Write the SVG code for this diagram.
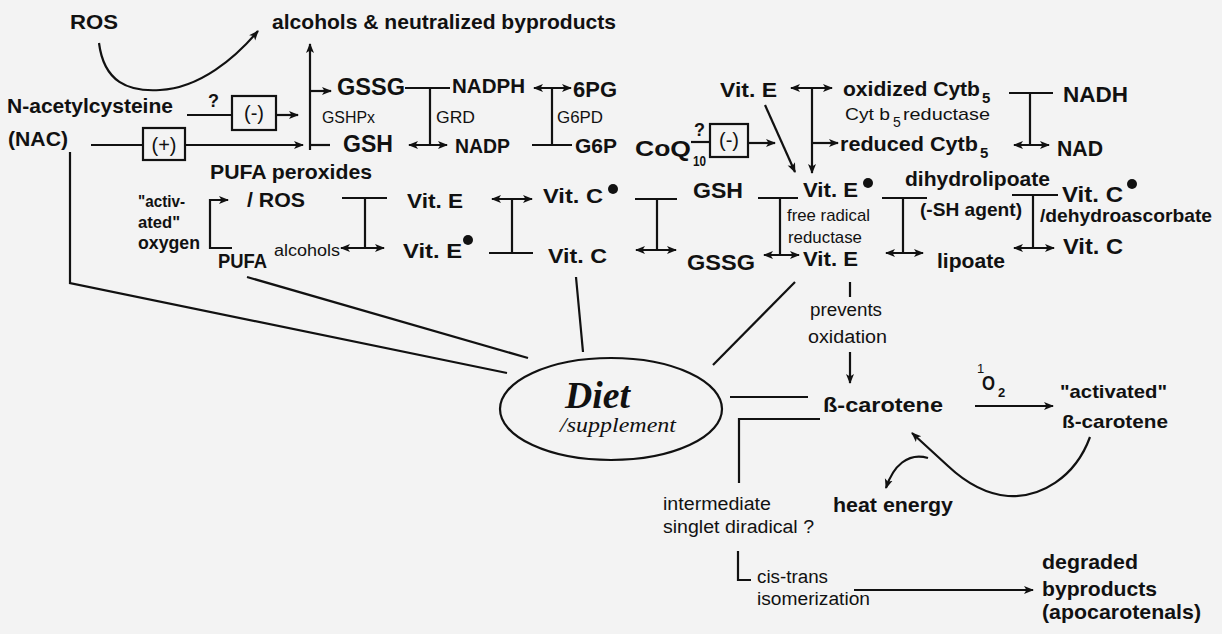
<svg xmlns="http://www.w3.org/2000/svg" width="1222" height="634" viewBox="0 0 1222 634">
<style>
.b{font-family:"Liberation Sans",Arial,sans-serif;font-weight:bold;fill:#111}
.n{font-family:"Liberation Sans",Arial,sans-serif;fill:#111}
.s{font-family:"Liberation Serif","Times New Roman",serif;font-style:italic;fill:#111}
.c{fill:none;stroke:#111;stroke-width:2.2}
.a{marker-end:url(#ah)}
.d{marker-start:url(#ah);marker-end:url(#ah)}
.box{fill:none;stroke:#111;stroke-width:2.2}
.dot{fill:#111}
</style>
<defs>
<marker id="ah" viewBox="0 0 10 10" refX="9" refY="5" markerWidth="10" markerHeight="10" markerUnits="userSpaceOnUse" orient="auto-start-reverse"><path d="M0,1 L10,5 L0,9 L2.5,5 z" fill="#111"/></marker>
</defs>
<rect x="0" y="0" width="1222" height="634" fill="#f3f3f3"/>

<g id="connectors">
<path class="c a" d="M99,43 C104,82 128,92 160,90 C200,88 235,58 258,31"/>
<path class="c a" d="M310,150 L310,44"/>
<path class="c a" d="M310,91 L331,91"/>
<path class="c" d="M310,145 L330,145"/>
<path class="c" d="M187,115 L232,115"/>
<path class="c a" d="M276,115 L298,115"/>
<path class="c" d="M91,145 L143,145"/>
<path class="c a" d="M185,145 L303,145"/>
<path class="c" d="M70,152 L70,283 L507,373"/>
<path class="c" d="M405,88 L450,88 M430,88 L430,145"/>
<path class="c d" d="M409,145 L447,145"/>
<path class="c d" d="M534,88 L571,88"/>
<path class="c" d="M552,88 L552,145 M532,145 L572,145"/>
<path class="c a" d="M232,248 L210,248 L210,200 L228,200"/>
<path class="c" d="M342,198 L387,198 M365,198 L365,248"/>
<path class="c d" d="M341,248 L384,248"/>
<path class="c d" d="M492,199 L532,199"/>
<path class="c" d="M512,199 L512,253 M489,253 L533,253"/>
<path class="c" d="M635,199 L677,199 M657,199 L657,250"/>
<path class="c d" d="M636,250 L676,250"/>
<path class="c" d="M758,198 L798,198 M780,198 L780,255"/>
<path class="c d" d="M764,255 L799,255"/>
<path class="c" d="M691,142 L710,142"/>
<path class="c a" d="M748,143 L775,143"/>
<path class="c a" d="M765,105 L795,172"/>
<path class="c d" d="M791,88 L832,88"/>
<path class="c a" d="M812,88 L812,173"/>
<path class="c a" d="M812,143 L838,143"/>
<path class="c" d="M1009,93 L1053,93 M1030,93 L1030,145"/>
<path class="c d" d="M1014,145 L1049,145"/>
<path class="c" d="M882,198 L927,198 M903,198 L903,253"/>
<path class="c d" d="M886,253 L923,253"/>
<path class="c" d="M1012,195 L1058,195 M1033,195 L1033,248"/>
<path class="c d" d="M1014,248 L1054,248"/>
<path class="c" d="M850,282 L850,297"/>
<path class="c a" d="M850,352 L850,383"/>
<path class="c" d="M247,277 L528,358"/>
<path class="c" d="M576,277 L583,352"/>
<path class="c" d="M795,282 L713,365"/>
<path class="c" d="M730,397 L808,397"/>
<path class="c" d="M739,483 L739,419 L820,419"/>
<path class="c a" d="M975,406 L1053,406"/>
<path class="c a" d="M1090,437 C1075,478 1040,498 1008,496 C985,494 965,482 948,466 L912,433"/>
<path class="c a" d="M928,458 C908,452 893,466 886,488"/>
<path class="c" d="M738,551 L738,580 L751,580"/>
<path class="c a" d="M854,590 L1033,590"/>
</g>

<g id="ros"><text class="b" x="70" y="29" font-size="21" textLength="48" lengthAdjust="spacingAndGlyphs">ROS</text></g>
<g id="alcohols-byproducts"><text class="b" x="272" y="29" font-size="21" textLength="344" lengthAdjust="spacingAndGlyphs">alcohols &amp; neutralized byproducts</text></g>
<g id="nac">
<text class="b" x="7" y="113" font-size="20" textLength="166" lengthAdjust="spacingAndGlyphs">N-acetylcysteine</text>
<text class="b" x="8" y="146" font-size="20" textLength="60" lengthAdjust="spacingAndGlyphs">(NAC)</text>
</g>
<g id="inhib-box1">
<text class="b" x="208" y="107" font-size="18">?</text>
<rect class="box" x="232" y="96" width="44" height="34"/>
<text class="n" x="254" y="120" font-size="20" text-anchor="middle">(-)</text>
</g>
<g id="promo-box">
<rect class="box" x="143" y="128" width="42" height="32"/>
<text class="n" x="164" y="152" font-size="20" text-anchor="middle">(+)</text>
</g>
<g id="gssg1"><text class="b" x="337" y="95" font-size="24" textLength="68" lengthAdjust="spacingAndGlyphs">GSSG</text></g>
<g id="gshpx"><text class="n" x="322" y="123" font-size="16" textLength="53" lengthAdjust="spacingAndGlyphs">GSHPx</text></g>
<g id="gsh1"><text class="b" x="343" y="152" font-size="24" textLength="50" lengthAdjust="spacingAndGlyphs">GSH</text></g>
<g id="nadph"><text class="b" x="452" y="93" font-size="21" textLength="73" lengthAdjust="spacingAndGlyphs">NADPH</text></g>
<g id="grd"><text class="n" x="436" y="123" font-size="17" textLength="39" lengthAdjust="spacingAndGlyphs">GRD</text></g>
<g id="nadp"><text class="b" x="455" y="153" font-size="21" textLength="55" lengthAdjust="spacingAndGlyphs">NADP</text></g>
<g id="pg6"><text class="b" x="573" y="97" font-size="22" textLength="44" lengthAdjust="spacingAndGlyphs">6PG</text></g>
<g id="g6pd"><text class="n" x="557" y="123" font-size="17" textLength="46" lengthAdjust="spacingAndGlyphs">G6PD</text></g>
<g id="g6p"><text class="b" x="575" y="153" font-size="21" textLength="42" lengthAdjust="spacingAndGlyphs">G6P</text></g>
<g id="pufa-peroxides"><text class="b" x="210" y="179" font-size="21" textLength="162" lengthAdjust="spacingAndGlyphs">PUFA peroxides</text></g>
<g id="ros2"><text class="b" x="247" y="207" font-size="21" textLength="58" lengthAdjust="spacingAndGlyphs">/ ROS</text></g>
<g id="activated-oxygen">
<text class="b" x="138" y="207" font-size="17" textLength="47" lengthAdjust="spacingAndGlyphs">"activ-</text>
<text class="b" x="138" y="228" font-size="17" textLength="42" lengthAdjust="spacingAndGlyphs">ated"</text>
<text class="b" x="138" y="249" font-size="18" textLength="62" lengthAdjust="spacingAndGlyphs">oxygen</text>
</g>
<g id="pufa"><text class="b" x="218" y="268" font-size="20" textLength="49" lengthAdjust="spacingAndGlyphs">PUFA</text></g>
<g id="alcohols2"><text class="n" x="274" y="256" font-size="16" textLength="66" lengthAdjust="spacingAndGlyphs">alcohols</text></g>
<g id="vite1"><text class="b" x="407" y="208" font-size="21" textLength="56" lengthAdjust="spacingAndGlyphs">Vit. E</text></g>
<g id="vite-rad1"><text class="b" x="403" y="258" font-size="21" textLength="59" lengthAdjust="spacingAndGlyphs">Vit. E</text><circle class="dot" cx="468" cy="240" r="5"/></g>
<g id="vitc-rad1"><text class="b" x="543" y="203" font-size="21" textLength="60" lengthAdjust="spacingAndGlyphs">Vit. C</text><circle class="dot" cx="613" cy="189" r="5"/></g>
<g id="vitc1"><text class="b" x="548" y="263" font-size="21" textLength="59" lengthAdjust="spacingAndGlyphs">Vit. C</text></g>
<g id="gsh2"><text class="b" x="693" y="198" font-size="22" textLength="50" lengthAdjust="spacingAndGlyphs">GSH</text></g>
<g id="gssg2"><text class="b" x="687" y="270" font-size="22" textLength="68" lengthAdjust="spacingAndGlyphs">GSSG</text></g>
<g id="coq10">
<text class="b" x="635" y="156" font-size="22" textLength="56" lengthAdjust="spacingAndGlyphs">CoQ</text>
<text class="b" x="693" y="166" font-size="15" textLength="13" lengthAdjust="spacingAndGlyphs">10</text>
<text class="b" x="694" y="136" font-size="18">?</text>
</g>
<g id="inhib-box2">
<rect class="box" x="710" y="124" width="38" height="33"/>
<text class="n" x="729" y="147" font-size="20" text-anchor="middle">(-)</text>
</g>
<g id="vite-top"><text class="b" x="720" y="97" font-size="21" textLength="57" lengthAdjust="spacingAndGlyphs">Vit. E</text></g>
<g id="vite-rad2"><text class="b" x="803" y="197" font-size="21" textLength="55" lengthAdjust="spacingAndGlyphs">Vit. E</text><circle class="dot" cx="868" cy="183" r="5"/></g>
<g id="free-radical-reductase">
<text class="n" x="787" y="221" font-size="17" textLength="83" lengthAdjust="spacingAndGlyphs">free radical</text>
<text class="n" x="788" y="243" font-size="17" textLength="74" lengthAdjust="spacingAndGlyphs">reductase</text>
</g>
<g id="vite2"><text class="b" x="803" y="266" font-size="21" textLength="55" lengthAdjust="spacingAndGlyphs">Vit. E</text></g>
<g id="oxidized-cytb5">
<text class="b" x="843" y="96" font-size="21" textLength="137" lengthAdjust="spacingAndGlyphs">oxidized Cytb</text>
<text class="b" x="982" y="103" font-size="15">5</text>
</g>
<g id="cytb5-reductase">
<text class="n" x="845" y="120" font-size="17" textLength="45" lengthAdjust="spacingAndGlyphs">Cyt b</text>
<text class="n" x="893" y="127" font-size="14">5</text>
<text class="n" x="903" y="120" font-size="17" textLength="87" lengthAdjust="spacingAndGlyphs">reductase</text>
</g>
<g id="reduced-cytb5">
<text class="b" x="840" y="151" font-size="21" textLength="138" lengthAdjust="spacingAndGlyphs">reduced Cytb</text>
<text class="b" x="980" y="158" font-size="15">5</text>
</g>
<g id="nadh"><text class="b" x="1063" y="102" font-size="22" textLength="65" lengthAdjust="spacingAndGlyphs">NADH</text></g>
<g id="nad"><text class="b" x="1057" y="156" font-size="22" textLength="46" lengthAdjust="spacingAndGlyphs">NAD</text></g>
<g id="dihydrolipoate"><text class="b" x="905" y="186" font-size="20" textLength="145" lengthAdjust="spacingAndGlyphs">dihydrolipoate</text></g>
<g id="sh-agent"><text class="b" x="920" y="216" font-size="19" textLength="102" lengthAdjust="spacingAndGlyphs">(-SH agent)</text></g>
<g id="lipoate"><text class="b" x="937" y="268" font-size="20" textLength="68" lengthAdjust="spacingAndGlyphs">lipoate</text></g>
<g id="vitc-rad2"><text class="b" x="1062" y="202" font-size="22" textLength="61" lengthAdjust="spacingAndGlyphs">Vit. C</text><circle class="dot" cx="1132" cy="184" r="5"/></g>
<g id="dehydroascorbate"><text class="b" x="1040" y="222" font-size="19" textLength="172" lengthAdjust="spacingAndGlyphs">/dehydroascorbate</text></g>
<g id="vitc2"><text class="b" x="1063" y="254" font-size="22" textLength="60" lengthAdjust="spacingAndGlyphs">Vit. C</text></g>
<g id="prevents-oxidation">
<text class="n" x="810" y="316" font-size="18" textLength="72" lengthAdjust="spacingAndGlyphs">prevents</text>
<text class="n" x="808" y="343" font-size="18" textLength="79" lengthAdjust="spacingAndGlyphs">oxidation</text>
</g>
<g id="diet">
<ellipse cx="611" cy="409" rx="111" ry="51" fill="none" stroke="#111" stroke-width="2.2"/>
<text class="s" x="565" y="408" font-size="38" font-weight="bold" textLength="65" lengthAdjust="spacingAndGlyphs">Diet</text>
<text class="s" x="560" y="432" font-size="20" textLength="116" lengthAdjust="spacingAndGlyphs">/supplement</text>
</g>
<g id="beta-carotene"><text class="b" x="823" y="412" font-size="21" textLength="120" lengthAdjust="spacingAndGlyphs">ß-carotene</text></g>
<g id="singlet-oxygen">
<text class="n" x="977" y="373" font-size="13">1</text>
<text class="b" x="982" y="390" font-size="21" textLength="13" lengthAdjust="spacingAndGlyphs">O</text>
<text class="b" x="998" y="397" font-size="13">2</text>
</g>
<g id="activated-beta-carotene">
<text class="b" x="1060" y="398" font-size="19" textLength="107" lengthAdjust="spacingAndGlyphs">"activated"</text>
<text class="b" x="1062" y="428" font-size="19" textLength="106" lengthAdjust="spacingAndGlyphs">ß-carotene</text>
</g>
<g id="heat-energy"><text class="b" x="833" y="512" font-size="21" textLength="120" lengthAdjust="spacingAndGlyphs">heat energy</text></g>
<g id="intermediate">
<text class="n" x="663" y="510" font-size="18" textLength="108" lengthAdjust="spacingAndGlyphs">intermediate</text>
<text class="n" x="663" y="533" font-size="18" textLength="151" lengthAdjust="spacingAndGlyphs">singlet diradical ?</text>
</g>
<g id="cis-trans">
<text class="n" x="757" y="583" font-size="18" textLength="71" lengthAdjust="spacingAndGlyphs">cis-trans</text>
<text class="n" x="757" y="605" font-size="18" textLength="113" lengthAdjust="spacingAndGlyphs">isomerization</text>
</g>
<g id="degraded-byproducts">
<text class="b" x="1042" y="569" font-size="21" textLength="96" lengthAdjust="spacingAndGlyphs">degraded</text>
<text class="b" x="1042" y="596" font-size="21" textLength="115" lengthAdjust="spacingAndGlyphs">byproducts</text>
<text class="b" x="1042" y="619" font-size="21" textLength="159" lengthAdjust="spacingAndGlyphs">(apocarotenals)</text>
</g>
</svg>
